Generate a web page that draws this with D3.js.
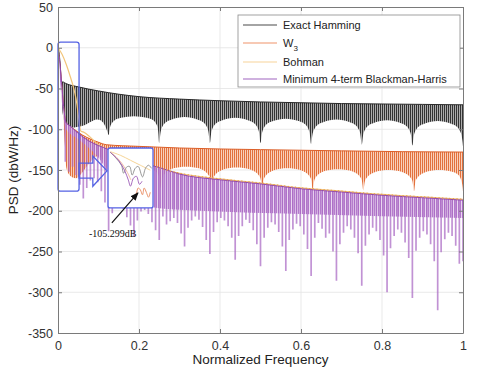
<!DOCTYPE html>
<html>
<head>
<meta charset="utf-8">
<script src="https://cdn.jsdelivr.net/npm/d3@7"></script>
<style>
  body { margin: 0; background: #fff; }
  svg { font-family: Arial, "Liberation Sans", sans-serif; }
</style>
</head>
<body>
<div id="chart"></div>
<script>
// ---- data ----
const xTicks = [0, 0.2, 0.4, 0.6, 0.8, 1];
const yTicks = [50, 0, -50, -100, -150, -200, -250, -300, -350];
const seriesNames = ['Exact Hamming', 'W', 'Bohman', 'Minimum 4-term Blackman-Harris'];

// Exact Hamming: upper envelope and lower edge of the dense sidelobe band
const hamTop = [[0,0],[0.003,-8],[0.006,-25],[0.008,-42],[0.012,-42],[0.02,-44],[0.05,-48],[0.1,-53],[0.15,-57],
  [0.2,-60],[0.3,-63],[0.4,-65],[0.5,-66.5],[0.6,-67.5],[0.7,-68.5],[0.8,-69],[0.9,-69.5],[1,-70]];
const hamBot = [[0,0],[0.006,-25],[0.009,-60],[0.013,-85],[0.02,-95],[0.035,-98],[0.05,-97],[0.065,-95],[0.08,-91],
  [0.095,-88],[0.105,-89],[0.113,-93],[0.119,-99],[0.122,-103],[0.125,-107],
  [0.13,-95],[0.14,-89],[0.156,-86],[0.1875,-84],[0.219,-86],[0.235,-89],[0.245,-96],[0.25,-117],
  [0.255,-100],[0.265,-92],[0.281,-88],[0.3125,-85],[0.344,-88],[0.36,-92],[0.37,-100],[0.375,-117],
  [0.38,-101],[0.39,-93],[0.406,-89],[0.4375,-86],[0.469,-89],[0.485,-93],[0.495,-101],[0.5,-117],
  [0.505,-102],[0.515,-94],[0.531,-90],[0.5625,-87],[0.594,-90],[0.61,-94],[0.62,-102],[0.625,-118],
  [0.63,-103],[0.64,-95],[0.656,-91],[0.6875,-88],[0.719,-91],[0.735,-95],[0.745,-103],[0.75,-119],
  [0.755,-104],[0.765,-96],[0.781,-92],[0.8125,-89],[0.844,-92],[0.86,-96],[0.87,-104],[0.875,-120],
  [0.88,-105],[0.89,-97],[0.906,-93],[0.9375,-90],[0.969,-93],[0.985,-97],[0.995,-105],[1,-121]];

// W3
const w3Top = [[0,0],[0.005,-22],[0.01,-50],[0.015,-78],[0.02,-92],[0.04,-100],[0.06,-107],[0.08,-112],[0.1,-116],
  [0.12,-119],[0.2,-121],[0.3,-123],[0.5,-125],[0.7,-126.5],[0.85,-127.5],[1,-128]];
const w3Bot = [[0,0],[0.006,-28],[0.012,-70],[0.017,-120],[0.022,-150],[0.03,-157],[0.045,-160],[0.06,-153],
  [0.075,-143],[0.09,-135],[0.1,-133],[0.11,-137],[0.118,-145],[0.124,-155],[0.129,-168],
  [0.134,-157],[0.144,-151],[0.16,-147],[0.191,-145],[0.223,-147],[0.239,-151],[0.249,-157],[0.254,-172],
  [0.259,-158],[0.269,-152],[0.285,-148],[0.316,-146],[0.348,-148],[0.364,-152],[0.374,-158],[0.379,-173],
  [0.384,-159],[0.394,-153],[0.41,-149],[0.441,-147],[0.473,-149],[0.489,-153],[0.499,-159],[0.504,-174],
  [0.509,-160],[0.519,-154],[0.535,-150],[0.566,-148],[0.598,-150],[0.614,-154],[0.624,-160],[0.629,-175],
  [0.634,-161],[0.644,-155],[0.66,-151],[0.691,-149],[0.723,-151],[0.739,-155],[0.749,-161],[0.754,-175],
  [0.759,-162],[0.769,-156],[0.785,-152],[0.816,-150],[0.848,-152],[0.864,-156],[0.874,-162],[0.879,-176],
  [0.884,-162],[0.894,-156],[0.91,-152],[0.941,-150],[0.973,-152],[0.989,-156],[0.997,-165],[1,-176]];

// Bohman
const bohLine = [[0,0],[0.01,-8],[0.02,-20],[0.03,-35],[0.04,-52],[0.047,-70],[0.052,-90],[0.056,-102],
  [0.065,-104],[0.08,-110],[0.1,-119],[0.125,-126],[0.15,-132],[0.2,-140],[0.3,-154],[0.4,-161],[0.5,-166],
  [0.6,-172],[0.7,-176],[0.8,-180],[0.9,-183],[1,-186]];

// Minimum 4-term Blackman-Harris: envelope, dense band edge, individual nulls
const bhTop = [[0,0],[0.005,-20],[0.01,-50],[0.015,-78],[0.02,-92],[0.03,-96],[0.05,-105],[0.075,-114],
  [0.1,-120],[0.125,-125],[0.15,-131],[0.2,-140],[0.25,-147],[0.3,-155],[0.4,-162],[0.5,-167],[0.6,-173],
  [0.7,-177],[0.8,-181],[0.9,-184],[1,-187]];
const bhBand = [[0,-8],[0.02,-100],[0.05,-112],[0.1,-135],[0.15,-172],[0.25,-197],[0.35,-200],[0.6,-204],[1,-209]];
const bhSpikes = [
  [0.018,-140],[0.027,-152],[0.036,-146],[0.045,-156],[0.054,-168],
  [0.0625,-185],[0.071,-172],[0.080,-163],[0.089,-160],[0.098,-165],[0.107,-176],[0.116,-190],
  [0.125,-225],[0.134,-203],[0.143,-195],[0.152,-192],[0.161,-198],[0.170,-208],[0.179,-218],
  [0.1875,-232],[0.196,-212],[0.205,-201],[0.214,-199],[0.223,-204],[0.232,-214],[0.241,-224],
  [0.25,-236],[0.259,-207],[0.268,-217],[0.277,-213],[0.286,-209],[0.295,-215],[0.304,-228],
  [0.3125,-244],[0.321,-221],[0.330,-212],[0.339,-207],[0.348,-211],[0.357,-220],[0.366,-236],
  [0.375,-253],[0.384,-226],[0.393,-214],[0.402,-209],[0.411,-212],[0.420,-219],[0.429,-233],
  [0.4375,-260],[0.446,-231],[0.455,-219],[0.464,-211],[0.473,-215],[0.482,-224],[0.491,-241],
  [0.5,-268],[0.509,-233],[0.518,-221],[0.527,-214],[0.536,-217],[0.545,-226],[0.554,-244],
  [0.5625,-274],[0.571,-236],[0.580,-223],[0.589,-216],[0.598,-219],[0.607,-229],[0.616,-247],
  [0.625,-280],[0.634,-233],[0.643,-215],[0.652,-222],[0.661,-233],[0.670,-228],[0.679,-250],
  [0.6875,-286],[0.696,-241],[0.705,-227],[0.714,-219],[0.723,-223],[0.732,-233],[0.741,-252],
  [0.75,-292],[0.759,-243],[0.768,-229],[0.777,-221],[0.786,-225],[0.795,-236],[0.804,-255],
  [0.8125,-300],[0.821,-246],[0.830,-231],[0.839,-223],[0.848,-227],[0.857,-239],[0.866,-258],
  [0.875,-307],[0.884,-249],[0.893,-233],[0.902,-225],[0.911,-229],[0.920,-241],[0.929,-262],
  [0.9375,-322],[0.946,-251],[0.955,-235],[0.964,-227],[0.973,-231],[0.982,-243],[0.991,-265],
  [1,-262]];

// zoomed inset (local frequency 0..1, dB)
const insetHam = [[0.02,-33],[0.16,-43],[0.28,-54],[0.33,-67],[0.40,-57],[0.47,-56],[0.53,-70],[0.60,-59],
  [0.67,-56],[0.77,-73],[0.84,-59],[0.91,-54],[0.98,-59]];
const insetBh = [[0.02,-33],[0.21,-46],[0.35,-62],[0.44,-78],[0.49,-88],[0.56,-75],[0.63,-72],[0.70,-85],[0.76,-80]];
const insetBoh = [[0.02,-32],[0.26,-38],[0.49,-46],[0.72,-54],[0.95,-62]];
const insetW3 = [[0.60,-104],[0.63,-99],[0.67,-91],[0.72,-94],[0.77,-102],[0.81,-91],[0.86,-98],[0.91,-106],[0.95,-98]];
const insetW3b = [[0.02,-33],[0.15,-40],[0.3,-52],[0.42,-66],[0.5,-78]];
const noteText = '-105.299dB';

// ---- chart ----
const width = 480, height = 374;
const svg = d3.select('#chart').append('svg').attr('width', width).attr('height', height);
const x = d3.scaleLinear().domain([0, 1]).range([58, 463]);
const y = d3.scaleLinear().domain([-350, 50]).range([333, 7]);
const defs = svg.append('defs');

defs.append('clipPath').attr('id', 'plot-clip').append('rect')
  .attr('x', x(0)).attr('y', y(50)).attr('width', x(1) - x(0)).attr('height', y(-350) - y(50));

function stripes(id, bg, fg) {
  const p = defs.append('pattern').attr('id', id).attr('patternUnits', 'userSpaceOnUse')
    .attr('width', 2).attr('height', 4);
  p.append('rect').attr('width', 2).attr('height', 4).attr('fill', bg);
  p.append('rect').attr('width', 1).attr('height', 4).attr('fill', fg);
}
stripes('ham-fill', '#acacac', '#333333');
stripes('w3-fill', '#f9d0ba', '#e2703c');
stripes('bh-fill', '#e8d3ef', '#ad6fc7');

const fx = d => x(d[0]), fy = d => y(d[1]);
const line = d3.line().x(fx).y(fy);
const envLine = d3.line().x(fx).y(fy).curve(d3.curveMonotoneX);
// region above a lower-edge curve, and below an envelope
const above = d3.area().x(fx).y0(y(50)).y1(fy).curve(d3.curveCatmullRom);
const below = d3.area().x(fx).y0(y(-350)).y1(fy).curve(d3.curveMonotoneX);

defs.append('clipPath').attr('id', 'ham-clip').append('path').attr('d', above(hamBot));
defs.append('clipPath').attr('id', 'w3-clip').append('path').attr('d', above(w3Bot));
defs.append('clipPath').attr('id', 'bh-clip').append('path').attr('d', below(bhTop));

// grid
const grid = svg.append('g').attr('stroke', '#e3e3e3').attr('stroke-width', 0.8);
grid.selectAll('.gx').data(xTicks.slice(1, -1)).join('line')
  .attr('x1', d => x(d)).attr('x2', d => x(d)).attr('y1', y(50)).attr('y2', y(-350));
grid.selectAll('.gy').data(yTicks.slice(1, -1)).join('line')
  .attr('x1', x(0)).attr('x2', x(1)).attr('y1', d => y(d)).attr('y2', d => y(d));

const plot = svg.append('g').attr('clip-path', 'url(#plot-clip)');

// Exact Hamming
plot.append('path').attr('d', below(hamTop)).attr('fill', 'url(#ham-fill)').attr('clip-path', 'url(#ham-clip)');
plot.append('path').attr('d', envLine(hamTop))
  .attr('fill', 'none').attr('stroke', '#2a2a2a').attr('stroke-width', 1);

// W3
plot.append('path').attr('d', below(w3Top)).attr('fill', 'url(#w3-fill)').attr('clip-path', 'url(#w3-clip)');
plot.append('path').attr('d', envLine(w3Top))
  .attr('fill', 'none').attr('stroke', '#dc5f28').attr('stroke-width', 1);

// Bohman
plot.append('path').attr('d', envLine(bohLine))
  .attr('fill', 'none').attr('stroke', '#f2c57a').attr('stroke-width', 1.2);

// Blackman-Harris
const bh = plot.append('g').attr('clip-path', 'url(#bh-clip)');
bh.append('path').attr('d', d3.area().x(fx).y0(y(50)).y1(fy).curve(d3.curveMonotoneX)(bhBand))
  .attr('fill', 'url(#bh-fill)').attr('opacity', 0.9);
bh.selectAll('.spike').data(bhSpikes).join('line')
  .attr('x1', fx).attr('x2', fx).attr('y1', y(50)).attr('y2', fy)
  .attr('stroke', '#a968c4').attr('stroke-width', 1.7).attr('stroke-opacity', 0.72);
plot.append('path').attr('d', envLine(bhTop))
  .attr('fill', 'none').attr('stroke', '#8e44ad').attr('stroke-width', 1);
plot.append('path').attr('d', envLine(bohLine.filter(d => d[0] >= 0.12)))
  .attr('fill', 'none').attr('stroke', '#e39a52').attr('stroke-width', 1.3).attr('stroke-dasharray', '1.3 2.3');

// annotation: selection box, block arrow, inset
const blue = '#5462e3';
svg.append('rect').attr('x', x(0)).attr('y', y(7)).attr('width', x(0.052) - x(0)).attr('height', y(-176) - y(7))
  .attr('rx', 2.5).attr('fill', 'none').attr('stroke', blue).attr('stroke-width', 1.3);
const arrowPts = [[0.052,-141.5],[0.086,-141.5],[0.086,-133],[0.121,-151],[0.086,-170],[0.086,-160],[0.052,-160]];
svg.append('path').attr('d', line(arrowPts) + 'Z').attr('fill', 'none').attr('stroke', blue).attr('stroke-width', 1.3);

const inset = svg.append('g');
const ix = d3.scaleLinear().domain([0, 1]).range([x(0.127), x(0.233)]);
const iy = d3.scaleLinear().domain([-30, -120]).range([y(-126), y(-194)]);
inset.append('rect').attr('x', x(0.1235)).attr('y', y(-123)).attr('width', x(0.2346) - x(0.1235))
  .attr('height', y(-196.5) - y(-123)).attr('rx', 2).attr('fill', '#fff');
const iline = d3.line().x(d => ix(d[0])).y(d => iy(d[1])).curve(d3.curveCatmullRom);
[[insetBoh, '#f5cf8a'], [insetW3b, '#f2b79a'], [insetHam, '#8a8a8a'], [insetBh, '#9b59b6'], [insetW3, '#e8875a']]
  .forEach(([data, c]) => inset.append('path').attr('d', iline(data)).attr('fill', 'none')
    .attr('stroke', c).attr('stroke-width', 0.9));
inset.append('rect').attr('x', x(0.1235)).attr('y', y(-123)).attr('width', x(0.2346) - x(0.1235))
  .attr('height', y(-196.5) - y(-123)).attr('rx', 2).attr('fill', 'none').attr('stroke', blue).attr('stroke-width', 1.3);

defs.append('marker').attr('id', 'head').attr('viewBox', '0 0 10 10').attr('refX', 9).attr('refY', 5)
  .attr('markerWidth', 7).attr('markerHeight', 7).attr('orient', 'auto')
  .append('path').attr('d', 'M0,1 L10,5 L0,9 Z').attr('fill', '#111');
svg.append('line').attr('x1', x(0.133)).attr('y1', y(-215)).attr('x2', x(0.1975)).attr('y2', y(-178))
  .attr('stroke', '#111').attr('stroke-width', 1.2).attr('marker-end', 'url(#head)');
svg.append('text').attr('x', x(0.135)).attr('y', y(-232)).attr('text-anchor', 'middle')
  .attr('font-family', '"Liberation Serif", "Times New Roman", serif').attr('font-size', 10).attr('fill', '#111')
  .text(noteText);

// axes (box with inward ticks)
function styleAxis(g) {
  g.attr('font-family', null).attr('font-size', null);
  g.select('.domain').attr('stroke', '#7a7a7a');
  g.selectAll('.tick line').attr('stroke', '#7a7a7a');
  g.selectAll('.tick text').attr('fill', '#333').style('font-size', '12.5px');
}
svg.append('g').attr('transform', `translate(0,${y(-350)})`)
  .call(d3.axisBottom(x).tickValues(xTicks).tickSize(-4).tickPadding(8).tickSizeOuter(0).tickFormat(d => d))
  .call(styleAxis);
svg.append('g').attr('transform', `translate(${x(0)},0)`)
  .call(d3.axisLeft(y).tickValues(yTicks).tickSize(-4).tickPadding(5).tickSizeOuter(0).tickFormat(d => d))
  .call(styleAxis);
svg.append('g').attr('transform', `translate(0,${y(50)})`)
  .call(d3.axisTop(x).tickValues(xTicks).tickSize(-4).tickSizeOuter(0).tickFormat(''))
  .call(styleAxis);
svg.append('g').attr('transform', `translate(${x(1)},0)`)
  .call(d3.axisRight(y).tickValues(yTicks).tickSize(-4).tickSizeOuter(0).tickFormat(''))
  .call(styleAxis);

svg.append('text').attr('x', (x(0) + x(1)) / 2).attr('y', 364).attr('text-anchor', 'middle')
  .attr('font-size', 13.5).attr('fill', '#222').text('Normalized Frequency');
svg.append('text').attr('transform', `translate(18,${(y(50) + y(-350)) / 2}) rotate(-90)`)
  .attr('text-anchor', 'middle').attr('font-size', 13.5).attr('fill', '#222').text('PSD (dbW/Hz)');

// legend
const legendColors = ['#4a4a4a', '#f0936a', '#f7d49a', '#a065c0'];
const legendRows = [25, 43, 62, 79];
const legend = svg.append('g');
legend.append('rect').attr('x', 238).attr('y', 15).attr('width', 222).attr('height', 72)
  .attr('fill', '#fff').attr('stroke', '#8a8a8a').attr('stroke-width', 0.8);
seriesNames.forEach((name, i) => {
  legend.append('line').attr('x1', 243).attr('x2', 277).attr('y1', legendRows[i]).attr('y2', legendRows[i])
    .attr('stroke', legendColors[i]).attr('stroke-width', 1.2);
  const t = legend.append('text').attr('x', 283).attr('y', legendRows[i] + 4).attr('font-size', 11).attr('fill', '#222');
  t.append('tspan').text(name);
  if (i === 1) t.append('tspan').attr('dy', 4).attr('font-size', 8).text('3');
});
</script>
</body>
</html>
